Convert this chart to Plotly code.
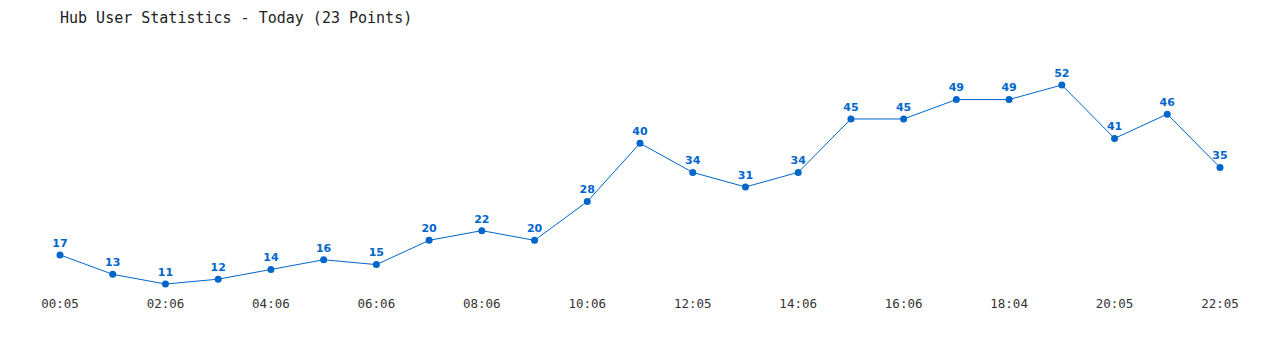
import plotly.graph_objects as go

values = [17, 13, 11, 12, 14, 16, 15, 20, 22, 20, 28, 40, 34, 31, 34, 45, 45, 49, 49, 52, 41, 46, 35]
tick_labels = ["00:05", "02:06", "04:06", "06:06", "08:06", "10:06",
               "12:05", "14:06", "16:06", "18:04", "20:05", "22:05"]
title = "Hub User Statistics - Today (23 Points)"

x = list(range(len(values)))
tick_positions = x[::2]

color = "#0066cc"

fig = go.Figure(go.Scatter(
    x=x, y=values,
    mode="lines+markers+text",
    line=dict(color=color, width=1),
    marker=dict(color=color, size=7),
    text=[str(v) for v in values],
    textposition="top center",
    textfont=dict(family="DejaVu Sans", size=11, color=color, weight="bold"),
    cliponaxis=False,
    hoverinfo="skip",
))

fig.update_layout(
    width=1280, height=350,
    margin=dict(l=60, r=60, t=40, b=60),
    paper_bgcolor="white", plot_bgcolor="white",
    showlegend=False,
    title=dict(text=title, x=60/1280, xanchor="left", y=1 - 18/350, yanchor="middle",
               font=dict(family="DejaVu Sans Mono", size=15, color="#222")),
    xaxis=dict(range=[0, 22], showgrid=False, zeroline=False, showline=False,
               tickvals=tick_positions, ticktext=tick_labels,
               ticks="outside", ticklen=2, tickcolor="rgba(0,0,0,0)",
               tickfont=dict(family="DejaVu Sans Mono", size=12.5, color="#333")),
    yaxis=dict(range=[9.77, 61.27], showgrid=False, zeroline=False, showline=False,
               showticklabels=False),
)

fig.write_html("out.html")
